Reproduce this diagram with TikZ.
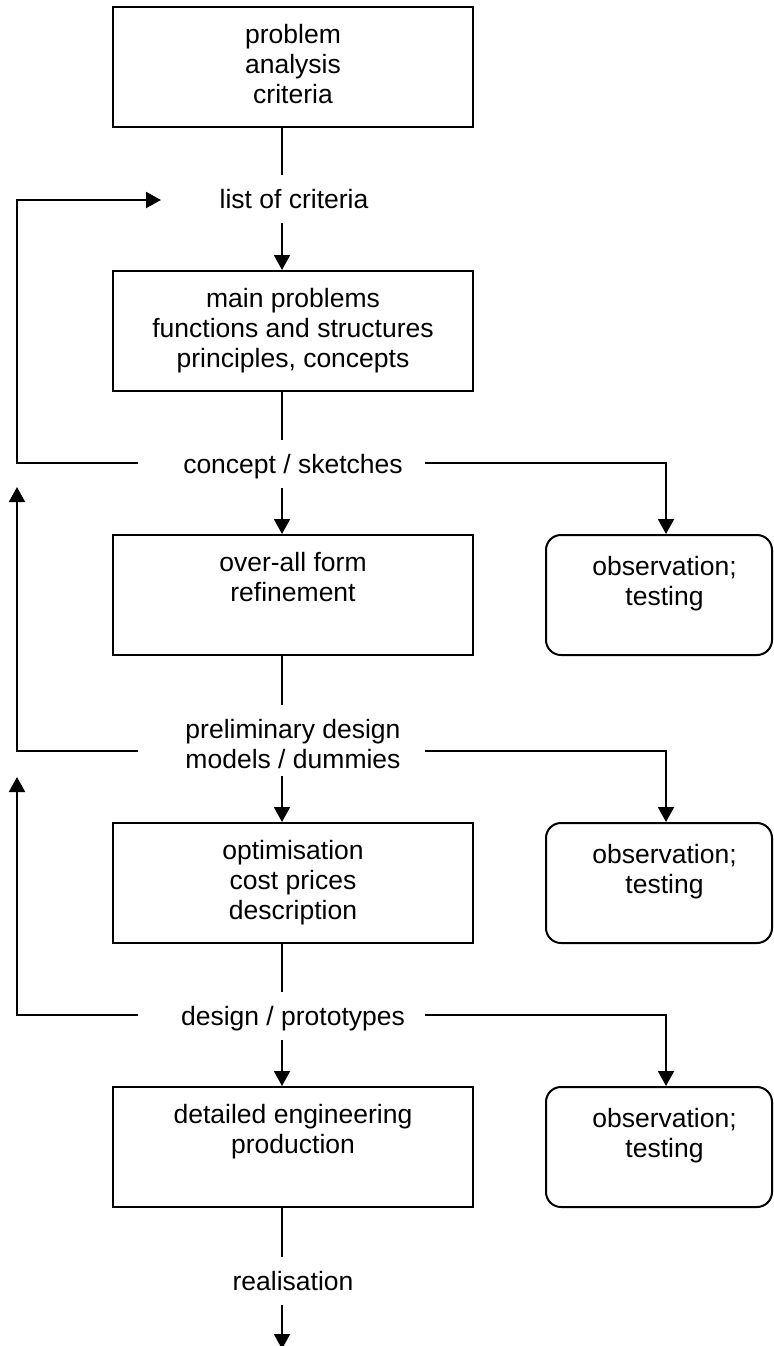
\documentclass[tikz,border=0pt]{standalone}
\usepackage{fontspec}
\setmainfont{Liberation Sans}
\usetikzlibrary{arrows.meta}
\begin{document}
\begin{tikzpicture}[x=0.5pt,y=-0.5pt,
  every node/.style={font=\fontsize{13.25pt}{15pt}\selectfont, align=center, inner sep=0pt},
  box/.style={draw, line width=1pt, minimum width=180pt, minimum height=60pt},
  rbox/.style={box, rounded corners=7.5pt, minimum width=113pt},
  lbl/.style={anchor=north},
  ln/.style={line width=1pt},
  arr/.style={ln, -{Triangle[length=7.5pt,width=8pt]}},
  intext/.style={shorten >=6pt},
  fromtext/.style={shorten <=2.5pt}]
\useasboundingbox (0,0) rectangle (774,1346);

% boxes of the main column
\node[box] (B1) at (293,67)   {\strut problem\\\strut analysis\\\strut criteria};
\node[box] (B2) at (293,331)  {\strut main problems\\\strut functions and structures\\\strut principles, concepts};
\node[box] (B3) at (293,595)  {\strut over-all form\\\strut refinement\\\strut};
\node[box] (B4) at (293,883)  {\strut optimisation\\\strut cost prices\\\strut description};
\node[box] (B5) at (293,1147) {\strut detailed engineering\\\strut production\\\strut};

% observation boxes
\node[rbox] (R1) at (659,595)  {\strut\hspace*{5.5pt}observation;\\\strut\hspace*{5.5pt}testing\\[-4pt]\strut};
\node[rbox] (R2) at (659,883)  {\strut\hspace*{5.5pt}observation;\\\strut\hspace*{5.5pt}testing\\[-4pt]\strut};
\node[rbox] (R3) at (659,1147) {\strut\hspace*{5.5pt}observation;\\\strut\hspace*{5.5pt}testing\\[-4pt]\strut};

% intermediate results
\node[lbl] (lc) at (294,187)  {\strut list of criteria};
\node[lbl] (cs) at (293,452)  {\strut concept / sketches};
\node[lbl] (pd) at (293,717)  {\strut preliminary design\\\strut models / dummies};
\node[lbl] (ds) at (293,1004) {\strut design / prototypes};
\node[lbl] (rl) at (293,1269) {\strut realisation};

% helper coordinates
\coordinate (ax)  at (282,0);
\coordinate (rax) at (666,0);
\coordinate (fb)  at (17,0);
\coordinate (csL) at (138,463);  \coordinate (csR) at (425,463);
\coordinate (pdL) at (138,751);  \coordinate (pdR) at (425,751);
\coordinate (dsL) at (138,1015); \coordinate (dsR) at (425,1015);
\coordinate (lcIn) at (161,200);
\coordinate (up1) at (17,487);
\coordinate (up2) at (17,777);
\coordinate (endA) at (282,1349);

% main column connectors
\draw[ln,intext]   (B1.south -| ax) -- (lc.north -| ax);
\draw[arr,fromtext](lc.south -| ax) -- (B2.north -| ax);
\draw[ln,intext]   (B2.south -| ax) -- (cs.north -| ax);
\draw[arr,fromtext](cs.south -| ax) -- (B3.north -| ax);
\draw[ln,intext]   (B3.south -| ax) -- (pd.north -| ax);
\draw[arr,shorten <=-1pt](pd.south -| ax) -- (B4.north -| ax);
\draw[ln,intext]   (B4.south -| ax) -- (ds.north -| ax);
\draw[arr,fromtext](ds.south -| ax) -- (B5.north -| ax);
\draw[ln,intext]   (B5.south -| ax) -- (rl.north -| ax);
\draw[arr,fromtext](rl.south -| ax) -- (endA);

% feedback loops
\draw[arr] (csL) -| (fb |- lcIn) -- (lcIn);
\draw[arr] (pdL) -| (up1);
\draw[arr] (dsL) -| (up2);

% branches to observation
\draw[arr] (csR) -| (R1.north -| rax);
\draw[arr] (pdR) -| (R2.north -| rax);
\draw[arr] (dsR) -| (R3.north -| rax);
\end{tikzpicture}
\end{document}
